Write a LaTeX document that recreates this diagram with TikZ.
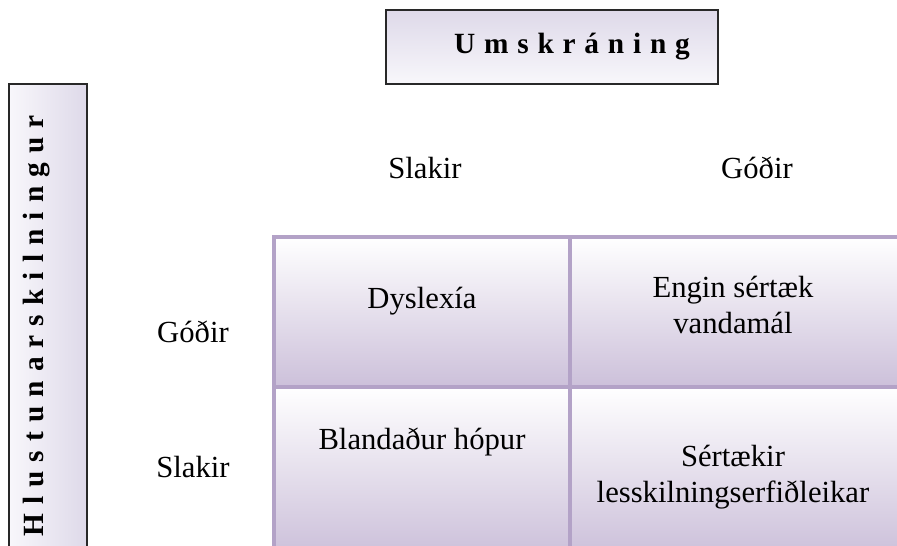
\documentclass[tikz,border=0pt]{standalone}
\usepackage{fontspec}
\setmainfont{Liberation Serif}
\newfontfamily\spacedfont[LetterSpace=30]{Liberation Serif}
\newfontfamily\vspacedfont[LetterSpace=31]{Liberation Serif}
\definecolor{cellline}{RGB}{179,162,199}
\definecolor{cellbot}{RGB}{204,192,218}
\definecolor{boxtop}{RGB}{222,217,233}
\definecolor{boxbot}{RGB}{248,247,251}
\definecolor{boxline}{RGB}{40,40,40}
\tikzset{
  celltext/.style={font=\fontsize{23}{27}\selectfont, align=center, inner sep=0pt},
  headtext/.style={font=\fontsize{23}{27}\selectfont, inner sep=0pt, anchor=base},
  titletext/.style={font=\spacedfont\bfseries\fontsize{22}{26}\selectfont, inner sep=0pt},
  vtitletext/.style={font=\vspacedfont\bfseries\fontsize{22}{26}\selectfont, inner sep=0pt},
  cellfill/.style={top color=white, bottom color=cellbot, draw=none},
  gridline/.style={draw=cellline, line width=2.8pt},
  labelbox/.style={draw=boxline, line width=1.4pt}
}
\begin{document}
\begin{tikzpicture}[x=0.75pt,y=-0.75pt]
\useasboundingbox (0,0) rectangle (897,546);
\clip (0,0) rectangle (897,546);
% title box
\path[labelbox, top color=boxtop, bottom color=boxbot] (386,10) rectangle (718,84);
\node[titletext, anchor=base] (title) at (572,53) {Umskráning};
% vertical label box
\path[labelbox, left color=boxbot, right color=boxtop] (9,84) rectangle (87,560);
\node[vtitletext, rotate=90] (vlabel) at (37,326) {Hlustunarskilningur};
% cells
\path[cellfill] (274,237) rectangle (570,387);
\path[cellfill] (570,237) rectangle (905,387);
\path[cellfill] (274,387) rectangle (570,555);
\path[cellfill] (570,387) rectangle (905,555);
\draw[gridline] (274,555) -- (274,237) -- (905,237);
\draw[gridline] (570,237) -- (570,555);
\draw[gridline] (274,387) -- (905,387);
% headers
\node[headtext] (hslakir) at (425,178) {Slakir};
\node[headtext] (hgodir) at (757,178) {Góðir};
\node[headtext] (vgodir) at (193,342) {Góðir};
\node[headtext] (vslakir) at (193,477) {Slakir};
% cell texts
\node[headtext] (c11) at (422,308) {Dyslexía};
\node[celltext] (c12) at (733,305) {Engin sértæk\\vandamál};
\node[headtext] (c21) at (422,449) {Blandaður hópur};
\node[celltext] (c22) at (733,477) {Sértækir\\lesskilningserfiðleikar};
\end{tikzpicture}
\end{document}
